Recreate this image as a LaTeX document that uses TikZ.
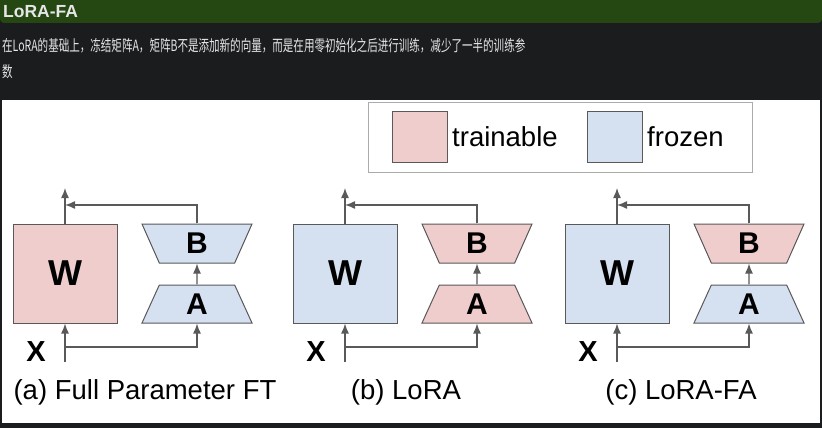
\documentclass[tikz,border=0pt]{standalone}
\usepackage{fontspec}
\setmainfont{Liberation Sans}
\newfontfamily\cjk{Noto Sans CJK SC}
\usetikzlibrary{shapes.geometric,arrows.meta}
\definecolor{pagebg}{HTML}{1B1C1E}
\definecolor{headbar}{HTML}{254711}
\definecolor{pagetext}{HTML}{E6E6E6}
\definecolor{trainfill}{HTML}{EFCDCD}
\definecolor{frozfill}{HTML}{D5E1F1}
\definecolor{edge}{HTML}{595959}

\begin{document}
\begin{tikzpicture}[x=1pt, y=-1pt,
  wbox/.style={
    draw=edge, line width=1pt, rectangle,
    minimum width=104pt, minimum height=99pt, inner sep=0pt,
    font=\bfseries\fontsize{36}{36}\selectfont
  },
  upper/.style={
    draw=edge, line width=1pt, trapezium, trapezium angle=50,
    trapezium stretches body, shape border rotate=180,
    minimum width=110pt, minimum height=39pt, inner sep=0pt,
    font=\bfseries\fontsize{30}{30}\selectfont
  },
  lower/.style={
    draw=edge, line width=1pt, trapezium, trapezium angle=50,
    trapezium stretches body,
    minimum width=110pt, minimum height=38pt, inner sep=0pt,
    font=\bfseries\fontsize{30}{30}\selectfont
  },
  xlabel/.style={inner sep=0pt, font=\bfseries\fontsize{29}{29}\selectfont},
  caption/.style={inner sep=0pt, font=\fontsize{27.5}{27.5}\selectfont},
  swatch/.style={draw=edge, line width=1pt, minimum width=55pt, minimum height=51pt, inner sep=0pt},
  pagetxt/.style={anchor=west, inner sep=0pt, text=pagetext, xscale=0.68, transform shape,
    font=\cjk\fontsize{15.5}{15.5}\selectfont},
  arr/.style={-{Latex[length=10pt,width=8pt]}, draw=edge, line width=1.4pt},
]

\fill[pagebg] (0,0) rectangle (822,428);
\useasboundingbox (0,0) rectangle (822,428);
\fill[headbar, rounded corners=4pt] (0,-5) rectangle (822,23);
\node[anchor=west, inner sep=0pt, text=pagetext, font=\bfseries\fontsize{17.5}{17.5}\selectfont] (title) at (3,11.5) {LoRA-FA};
\node[pagetxt] (line1) at (2,46) {在LoRA的基础上，冻结矩阵A，矩阵B不是添加新的向量，而是在用零初始化之后进行训练，减少了一半的训练参};
\node[pagetxt] (line2) at (2,72) {数};
\fill[white] (2,100) rectangle (820,423);

\node[draw=black!33, line width=1pt, minimum width=384pt, minimum height=70pt] (legend) at (560,137) {};
\node[swatch, fill=trainfill] (sw1) at (419.5,136.5) {};
\node[anchor=west, inner sep=0pt, font=\fontsize{27.5}{27.5}\selectfont] (lg1) at (452,137) {trainable};
\node[swatch, fill=frozfill] (sw2) at (614.5,136.5) {};
\node[anchor=west, inner sep=0pt, font=\fontsize{27.5}{27.5}\selectfont] (lg2) at (647,137) {frozen};

\node[wbox, fill=trainfill] (wa) at (65,273.5) {W};
\node[upper, fill=frozfill] (ba) at (197,243.5) {B};
\node[lower, fill=frozfill] (aa) at (197,304) {A};
\node[xlabel] (xla) at (36,352) {X};
\coordinate (ia) at (65,362);
\coordinate (ja) at (65,347);
\coordinate (oa) at (65,188);
\coordinate (ma) at (65,205);
\draw[arr] (ia) -- (wa);
\draw[arr] (ja) -| (aa);
\draw[arr] (aa) -- (ba);
\draw[arr] (wa) -- (oa);
\draw[arr] (ba) |- (ma);
\node[caption] (capa) at (145,392) {(a) Full Parameter FT};

\node[wbox, fill=frozfill] (wb) at (345,273.5) {W};
\node[upper, fill=trainfill] (bb) at (477,243.5) {B};
\node[lower, fill=trainfill] (ab) at (477,304) {A};
\node[xlabel] (xlb) at (316,352) {X};
\coordinate (ib) at (345,362);
\coordinate (jb) at (345,347);
\coordinate (ob) at (345,188);
\coordinate (mb) at (345,205);
\draw[arr] (ib) -- (wb);
\draw[arr] (jb) -| (ab);
\draw[arr] (ab) -- (bb);
\draw[arr] (wb) -- (ob);
\draw[arr] (bb) |- (mb);
\node[caption] (capb) at (406,392) {(b) LoRA};

\node[wbox, fill=frozfill] (wc) at (617,273.5) {W};
\node[upper, fill=trainfill] (bc) at (749,243.5) {B};
\node[lower, fill=frozfill] (ac) at (749,304) {A};
\node[xlabel] (xlc) at (588,352) {X};
\coordinate (ic) at (617,362);
\coordinate (jc) at (617,347);
\coordinate (oc) at (617,188);
\coordinate (mc) at (617,205);
\draw[arr] (ic) -- (wc);
\draw[arr] (jc) -| (ac);
\draw[arr] (ac) -- (bc);
\draw[arr] (wc) -- (oc);
\draw[arr] (bc) |- (mc);
\node[caption] (capc) at (681,392) {(c) LoRA-FA};

\end{tikzpicture}
\end{document}
